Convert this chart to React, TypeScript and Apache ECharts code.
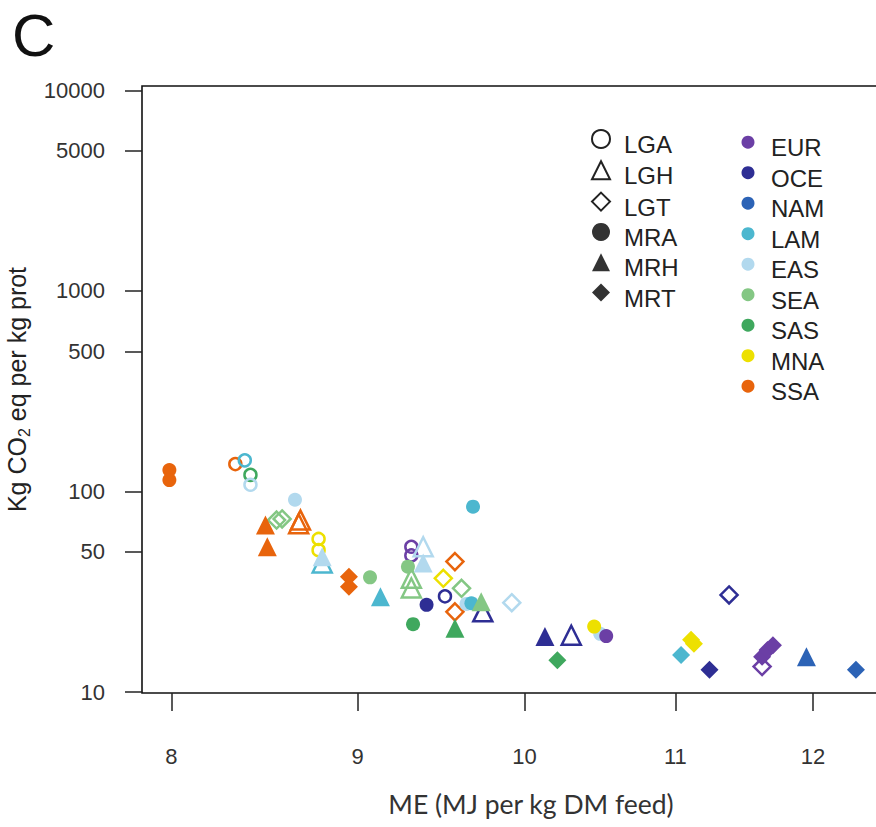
import React, { useEffect, useRef } from 'react';
import * as echarts from 'echarts';

// Regions and their colours
const REGIONS = ['EUR', 'OCE', 'NAM', 'LAM', 'EAS', 'SEA', 'SAS', 'MNA', 'SSA'];
const REGION_COLORS = ['#6B3FA5', '#2E2E94', '#2C63B6', '#4CB7CF', '#B2D9EE', '#84C784', '#3FA85E', '#EDE000', '#E8640C'];

// Production systems (L* hollow, M* filled)
const SYSTEMS = ['LGA', 'LGH', 'LGT', 'MRA', 'MRH', 'MRT'];

// Axis tick labels
const X_TICKS = [8, 9, 10, 11, 12];
const Y_TICKS = [10, 50, 100, 500, 1000, 5000, 10000];

// [ME (MJ per kg DM feed), Kg CO2 eq per kg prot, region]
const LGA: [number, number, string][] = [
  [8.33, 137, 'SSA'], [8.38, 143, 'LAM'], [8.41, 121, 'SAS'], [8.41, 108, 'EAS'],
  [8.78, 58, 'MNA'], [8.78, 51, 'MNA'], [9.31, 53, 'EUR'], [9.31, 48, 'EUR'], [9.51, 30, 'OCE'],
];
const LGH: [number, number, string][] = [
  [8.68, 72, 'SSA'], [8.67, 69, 'SSA'], [8.80, 44, 'LAM'], [9.38, 53, 'EAS'],
  [9.31, 36.9, 'SEA'], [9.31, 33.0, 'SEA'], [9.74, 25.1, 'OCE'], [10.30, 19.2, 'OCE'],
];
const LGT: [number, number, string][] = [
  [8.55, 72, 'SEA'], [8.58, 73, 'SEA'], [9.57, 44.7, 'SSA'], [9.50, 36.9, 'MNA'],
  [9.61, 32.9, 'SEA'], [9.57, 25.1, 'SSA'], [9.92, 27.9, 'EAS'], [11.38, 30.5, 'OCE'], [11.62, 13.4, 'EUR'],
];
const MRA: [number, number, string][] = [
  [7.99, 128, 'SSA'], [7.99, 114, 'SSA'], [8.65, 91, 'EAS'], [9.07, 37.3, 'SEA'], [9.29, 42.2, 'SEA'],
  [9.40, 27.2, 'OCE'], [9.32, 21.8, 'SAS'], [9.68, 84, 'LAM'], [9.64, 27.5, 'EAS'], [9.67, 27.7, 'LAM'],
  [10.49, 19.5, 'EAS'], [10.45, 21.2, 'MNA'], [10.53, 19.0, 'EUR'],
];
const MRH: [number, number, string][] = [
  [8.49, 68, 'SSA'], [8.50, 53, 'SSA'], [8.80, 47.3, 'EAS'], [9.13, 29.9, 'LAM'], [9.38, 44, 'EAS'],
  [9.73, 28.2, 'SEA'], [9.57, 20.8, 'SAS'], [10.13, 18.9, 'OCE'], [11.95, 15.0, 'NAM'],
];
const MRT: [number, number, string][] = [
  [8.95, 37.6, 'SSA'], [8.95, 33.5, 'SSA'], [10.21, 14.4, 'SAS'], [11.04, 15.3, 'LAM'],
  [11.11, 18.2, 'MNA'], [11.13, 17.4, 'MNA'], [11.24, 12.9, 'OCE'], [11.62, 15.0, 'EUR'],
  [11.66, 16.2, 'EUR'], [11.70, 17.1, 'EUR'], [12.33, 12.9, 'NAM'],
];

const SYSTEM_DATA = [LGA, LGH, LGT, MRA, MRH, MRT];
const SYSTEM_SYMBOL = ['circle', 'triangle', 'diamond', 'circle', 'triangle', 'diamond'];
const SYSTEM_SIZE = [12, 19, 17, 14, 19, 18];
const SYSTEM_HOLLOW = [true, true, true, false, false, false];

const X_MIN = 7.853, X_MAX = 12.646, Y_MIN = 9.886, Y_MAX = 10530;

const FONT = 'Liberation Sans';
const lg = Math.log10;

export default function App() {
  const ref = useRef<HTMLDivElement>(null);
  useEffect(() => {
    if (!ref.current) return;
    const chart = echarts.init(ref.current, null, { renderer: 'svg' });
    const colorOf = (r: string) => REGION_COLORS[REGIONS.indexOf(r)];

    const systemSeries = SYSTEMS.map((name, i) => ({
      type: 'scatter',
      name,
      symbol: SYSTEM_SYMBOL[i],
      symbolSize: SYSTEM_SIZE[i],
      itemStyle: SYSTEM_HOLLOW[i]
        ? { color: 'rgba(0,0,0,0)', borderColor: '#222', borderWidth: 2, opacity: 1 }
        : { color: '#333', opacity: 1 },
      data: SYSTEM_DATA[i].map(([x, y, r]) => ({
        value: [lg(x), lg(y)],
        itemStyle: SYSTEM_HOLLOW[i]
          ? { color: 'rgba(0,0,0,0)', borderColor: colorOf(r), borderWidth: 2.5, opacity: 1 }
          : { color: colorOf(r), borderWidth: 0, opacity: 1 },
      })),
    }));
    const regionSeries = REGIONS.map((name, i) => ({
      type: 'scatter', name, symbol: 'circle', data: [], itemStyle: { color: REGION_COLORS[i], opacity: 1 },
    }));

    const legendText = (padLeft: number) => ({
      color: '#222',
      rich: {
        t: { fontSize: 24, fontFamily: FONT, color: '#222', lineHeight: 24, verticalAlign: 'bottom', padding: [0, 0, 0, padLeft] },
        z: { fontSize: 2, lineHeight: 35 },
      },
    });

    chart.setOption({
      animation: false,
      backgroundColor: '#fff',
      grid: {
        left: 142, top: 86, right: -20, bottom: 134,
        show: true, borderColor: '#111', borderWidth: 1.6, outerBoundsMode: 'none', containLabel: false,
      },
      xAxis: {
        type: 'value', min: lg(X_MIN), max: lg(X_MAX),
        splitLine: { show: false }, axisLine: { show: false },
        axisTick: { show: true, length: 18, customValues: X_TICKS.map(lg), lineStyle: { color: '#222', width: 1.5 } },
        axisLabel: {
          customValues: X_TICKS.map(lg), margin: 52, fontSize: 22, fontFamily: FONT, color: '#333',
          formatter: (v: number) => String(Math.round(Math.pow(10, v))),
        },
        name: 'ME (MJ per kg DM feed)', nameLocation: 'middle', nameGap: 97,
        nameTextStyle: { fontSize: 26.5, fontFamily: 'Lato', color: '#333', padding: [0, 0, 0, 24] },
      },
      yAxis: {
        type: 'value', min: lg(Y_MIN), max: lg(Y_MAX),
        splitLine: { show: false }, axisLine: { show: false },
        axisTick: { show: true, length: 17, customValues: Y_TICKS.map(lg), lineStyle: { color: '#222', width: 1.5 } },
        axisLabel: {
          customValues: Y_TICKS.map(lg), margin: 37, fontSize: 22, fontFamily: FONT, color: '#333',
          formatter: (v: number) => String(Math.round(Math.pow(10, v))),
        },
        name: '{a|Kg CO}{s|2}{a| eq per kg prot}', nameLocation: 'middle', nameGap: 104, nameRotate: 90,
        nameTextStyle: {
          rich: {
            a: { fontSize: 25, fontFamily: FONT, color: '#222', lineHeight: 32 },
            s: { fontSize: 16, fontFamily: FONT, color: '#222', lineHeight: 16, verticalAlign: 'bottom' },
          },
        },
      },
      legend: [
        {
          data: SYSTEMS.map((name, i) => ({
            name,
            icon: SYSTEM_SYMBOL[i],
            itemStyle: SYSTEM_HOLLOW[i]
              ? { color: 'rgba(0,0,0,0)', borderColor: '#222', borderWidth: 2 }
              : { color: '#333', borderWidth: 0 },
          })),
          orient: 'vertical', left: 591, top: 129, padding: 0,
          itemWidth: 18, itemHeight: 18, itemGap: 3.8, selectedMode: false,
          formatter: (n: string) => `{t|${n}}{z| }`,
          textStyle: legendText(9),
        },
        {
          data: REGIONS.map((name, i) => ({ name, icon: 'circle', itemStyle: { color: REGION_COLORS[i], borderWidth: 0 } })),
          orient: 'vertical', left: 741.5, top: 135.7, padding: 0,
          itemWidth: 13, itemHeight: 13, itemGap: 6.5, selectedMode: false,
          formatter: (n: string) => `{t|${n}}{z| }`,
          textStyle: legendText(11.5),
        },
      ],
      graphic: [
        { type: 'text', left: 12, top: 5, style: { text: 'C', fontSize: 60, fontFamily: FONT, fill: '#111' } },
      ],
      series: [...systemSeries, ...regionSeries],
    });
    return () => chart.dispose();
  }, []);
  return <div ref={ref} style={{ position: 'fixed', left: 0, top: 0, width: 876, height: 827 }} />;
}
